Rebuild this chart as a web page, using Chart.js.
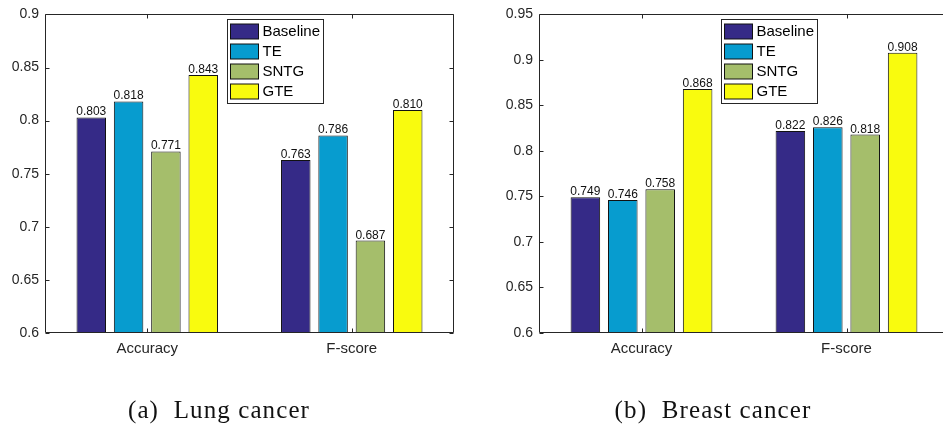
<!DOCTYPE html>
<html><head><meta charset="utf-8">
<script src="https://cdn.jsdelivr.net/npm/chart.js@4.4.1/dist/chart.umd.min.js"></script>
<style>
html,body{margin:0;padding:0;background:#fff;width:943px;height:425px;overflow:hidden;position:relative;}
.wrap{position:absolute;top:0;height:425px;}
.cap{position:absolute;top:397px;font-family:"Liberation Serif","Times New Roman",serif;font-size:25px;line-height:25px;letter-spacing:1.1px;color:#111;white-space:pre;transform:translateX(-50%);}
</style></head>
<body>
<div class="wrap" style="left:0;width:470px"><canvas id="c1" width="470" height="425"></canvas></div>
<div class="wrap" style="left:470px;width:500px"><canvas id="c2" width="500" height="425"></canvas></div>
<div class="cap" style="left:219px">(a)  Lung cancer</div>
<div class="cap" style="left:713px">(b)  Breast cancer</div>
<script>
// ---- data ----
const categories = ['Accuracy', 'F-score'];
const seriesNames = ['Baseline', 'TE', 'SNTG', 'GTE'];
const seriesColors = ['#352a87', '#079ccf', '#a5be6b', '#f9fb0e'];

const lungBaseline = [0.803, 0.763];
const lungTE       = [0.818, 0.786];
const lungSNTG     = [0.771, 0.687];
const lungGTE      = [0.843, 0.810];

const breastBaseline = [0.749, 0.822];
const breastTE       = [0.746, 0.826];
const breastSNTG     = [0.758, 0.818];
const breastGTE      = [0.868, 0.908];

const lungYTicks   = [0.6, 0.65, 0.7, 0.75, 0.8, 0.85, 0.9];
const breastYTicks = [0.6, 0.65, 0.7, 0.75, 0.8, 0.85, 0.9, 0.95];

const AXIS = '#262626';
const SANS = '"Liberation Sans", Arial, Helvetica, sans-serif';

const framePlugin = {
  id: 'frame',
  afterDatasetsDraw(chart) {
    const {ctx, chartArea: a, scales: {x, y}} = chart;
    ctx.save();
    // value labels
    ctx.fillStyle = '#111';
    ctx.font = '12px ' + SANS;
    ctx.textAlign = 'center';
    ctx.textBaseline = 'alphabetic';
    chart.data.datasets.forEach((ds, i) => {
      chart.getDatasetMeta(i).data.forEach((el, j) => {
        ctx.fillText(ds.data[j].toFixed(3), el.x, el.y - 2);
      });
    });
    // box
    ctx.strokeStyle = AXIS; ctx.lineWidth = 1;
    const L = Math.round(a.left) + 0.5, R = Math.round(a.right) - 0.5;
    const T = Math.round(a.top) + 0.5, B = Math.round(a.bottom) - 0.5;
    ctx.beginPath();
    ctx.moveTo(L, T); ctx.lineTo(R, T); ctx.lineTo(R, B); ctx.lineTo(L, B); ctx.closePath();
    ctx.stroke();
    // inward ticks
    ctx.beginPath();
    y.ticks.forEach(t => {
      const py = Math.round(y.getPixelForValue(t.value)) + 0.5;
      ctx.moveTo(L, py); ctx.lineTo(L + 4, py);
      ctx.moveTo(R, py); ctx.lineTo(R - 4, py);
    });
    x.ticks.forEach((t, i) => {
      const px = Math.round(x.getPixelForValue(i)) + 0.5;
      ctx.moveTo(px, B); ctx.lineTo(px, B - 4);
      ctx.moveTo(px, T); ctx.lineTo(px, T + 4);
    });
    ctx.stroke();
    // legend
    const bx = Math.round(a.left + 182) + 0.5, by = Math.round(a.top + 5) + 0.5;
    const bw = 96, bh = 84;
    ctx.fillStyle = '#fff';
    ctx.fillRect(bx, by, bw, bh);
    ctx.strokeRect(bx, by, bw, bh);
    ctx.font = '15px ' + SANS;
    ctx.textAlign = 'left';
    ctx.textBaseline = 'middle';
    chart.data.datasets.forEach((ds, i) => {
      const sy = by + 4 + i * 20.3;
      ctx.fillStyle = ds.backgroundColor;
      ctx.fillRect(bx + 3, Math.round(sy), 28, 15);
      ctx.strokeStyle = '#111';
      ctx.strokeRect(bx + 3, Math.round(sy), 28, 15);
      ctx.fillStyle = '#000';
      ctx.fillText(ds.label, bx + 35, Math.round(sy) + 8);
    });
    ctx.restore();
  }
};

function makeChart(id, series, yTicks, yMax, area) {
  const datasets = series.map((d, i) => ({
    label: seriesNames[i],
    data: d,
    backgroundColor: seriesColors[i],
    borderColor: '#111',
    borderWidth: 1,
    borderSkipped: false,
    categoryPercentage: 0.73,
    barPercentage: 0.79
  }));
  return new Chart(document.getElementById(id), {
    type: 'bar',
    data: { labels: categories, datasets },
    options: {
      responsive: false,
      animation: false,
      devicePixelRatio: 1,
      layout: { padding: { top: area.top, right: area.right, left: 0, bottom: 0 } },
      plugins: { legend: { display: false }, tooltip: { enabled: false } },
      scales: {
        x: {
          grid: { display: false, drawTicks: false },
          border: { display: false },
          ticks: { color: AXIS, font: { family: SANS, size: 15 }, padding: 7 },
          afterFit: s => { s.height = area.xh; }
        },
        y: {
          min: 0.6, max: yMax,
          grid: { display: false, drawTicks: false },
          border: { display: false },
          afterBuildTicks: s => { s.ticks = yTicks.map(v => ({ value: v })); },
          ticks: {
            color: AXIS, font: { family: SANS, size: 14 }, padding: 6,
            callback: v => String(+v.toFixed(2))
          },
          afterFit: s => { s.width = area.yw; }
        }
      }
    },
    plugins: [framePlugin]
  });
}

makeChart('c1', [lungBaseline, lungTE, lungSNTG, lungGTE], lungYTicks, 0.9,
  { top: 9, right: 16, xh: 92, yw: 45 });
makeChart('c2', [breastBaseline, breastTE, breastSNTG, breastGTE], breastYTicks, 0.95,
  { top: 10, right: 21, xh: 92, yw: 69 });
</script>
</body></html>
